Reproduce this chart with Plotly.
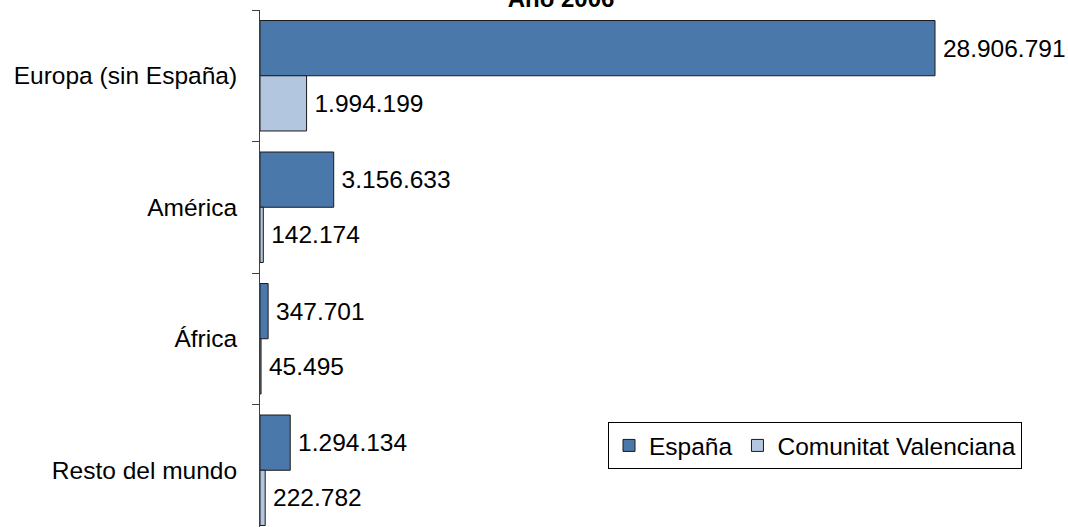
import plotly.graph_objects as go

categories = ["Europa (sin España)", "América", "África", "Resto del mundo"]
espana = [28906791, 3156633, 347701, 1294134]
valenciana = [1994199, 142174, 45495, 222782]
series_names = ["España", "Comunitat Valenciana"]
title_text = "Año 2006"

def fmt(v):
    return f"{v:,}".replace(",", ".")

W, H = 1068, 527
L, R, T, B = 260, 0, 10, 0
plot_w = W - L - R
px_per_unit = 675 / 28906791
x_max = plot_w / px_per_unit

FAM = "Liberation Sans, Arial, sans-serif"
FS = 24.5
font = dict(family=FAM, size=FS, color="#000000")

fig = go.Figure()
fig.add_trace(go.Bar(
    y=categories, x=espana, orientation="h", name=series_names[0],
    marker=dict(color="#4A78AA", line=dict(color="#1a1a1a", width=1)),
    text=[fmt(v) for v in espana], texttemplate="\u2009%{text}",
    textposition="outside",
    textfont=font, cliponaxis=False, constraintext="none",
))
fig.add_trace(go.Bar(
    y=categories, x=valenciana, orientation="h", name=series_names[1],
    marker=dict(color="#B3C6E0", line=dict(color="#1a1a1a", width=1)),
    text=[fmt(v) for v in valenciana], texttemplate="\u2009%{text}",
    textposition="outside",
    textfont=font, cliponaxis=False, constraintext="none",
))

plot_h = H - T - B
cat_px = 131.5
span = plot_h / cat_px

fig.update_layout(
    width=W, height=H,
    margin=dict(l=L, r=R, t=T, b=B, pad=0),
    paper_bgcolor="white", plot_bgcolor="white",
    barmode="group", bargap=0.16, bargroupgap=0,
    font=font,
    showlegend=True,
    legend=dict(
        orientation="h", x=(1022 - L) / plot_w, xanchor="right",
        y=1 - (422 - T) / plot_h, yanchor="top",
        bordercolor="#000000", borderwidth=1, bgcolor="white",
        font=font, traceorder="normal",
    ),
    title=dict(
        text=f"<b>{title_text}</b>", x=561 / W, xanchor="center",
        y=1 - 7 / H, yanchor="bottom", yref="container",
        font=dict(family=FAM, size=24, color="#000000"),
    ),
    xaxis=dict(range=[0, x_max], visible=False, showgrid=False, zeroline=False),
    yaxis=dict(
        type="category", categoryorder="array", categoryarray=categories,
        range=[-0.5 + span, -0.5], showline=True, linecolor="#404040", linewidth=1,
        ticks="outside", ticklen=7, tickcolor="#404040", tickson="boundaries",
        showgrid=False, zeroline=False, ticklabelstandoff=17,
        tickfont=font,
    ),
)

fig.write_html("out.html")
